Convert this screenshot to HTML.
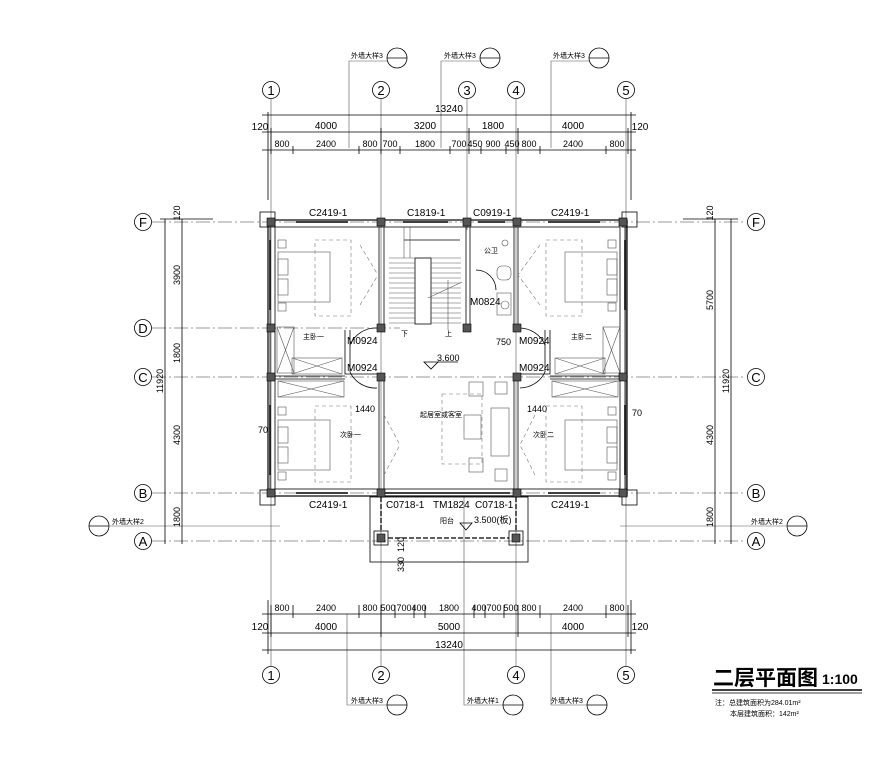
<!DOCTYPE html>
<html><head><meta charset="utf-8"><style>
html,body{margin:0;padding:0;background:#fff}
svg{display:block}
text{font-family:"Liberation Sans","Noto Sans CJK SC",sans-serif;fill:#000}
.t{font-size:10px}
.t9{font-size:9px}
.s{font-size:7px}
.ax{stroke:#777;stroke-width:.7;stroke-dasharray:14 3 2 3;fill:none}
.l{stroke:#000;stroke-width:.8;fill:none}
.g{stroke:#555;stroke-width:.6;fill:none}
.d{stroke:#777;stroke-width:.6;fill:none;stroke-dasharray:4 3}
.c{fill:#555;stroke:#000;stroke-width:.6}
</style></head><body>
<svg width="896" height="764" viewBox="0 0 896 764" xmlns="http://www.w3.org/2000/svg">
<g class="ax">
<line x1="152" y1="222" x2="746" y2="222"/>
<line x1="152" y1="328" x2="400" y2="328"/>
<line x1="152" y1="377" x2="746" y2="377"/>
<line x1="152" y1="493" x2="746" y2="493"/>
<line x1="152" y1="541" x2="746" y2="541"/>
</g>
<g class="g">
<line x1="271" y1="99" x2="271" y2="666"/>
<line x1="381" y1="99" x2="381" y2="666"/>
<line x1="467" y1="99" x2="467" y2="230"/>
<line x1="516" y1="99" x2="516" y2="666"/>
<line x1="626" y1="99" x2="626" y2="666"/>
<polyline points="349,148 349,61 387,61"/>
<polyline points="441,148 441,61 480,61"/>
<polyline points="551,148 551,61 589,61"/>
<polyline points="347,614 347,705 387,705"/>
<polyline points="464,497 464,705 503,705"/>
<polyline points="551,614 551,705 587,705"/>
<line x1="110" y1="526" x2="280" y2="526"/>
<line x1="620" y1="526" x2="786" y2="526"/>
</g>
<g class="l">
<circle cx="397" cy="58" r="10"/><line x1="387" y1="58" x2="407" y2="58"/>
<circle cx="490" cy="58" r="10"/><line x1="480" y1="58" x2="500" y2="58"/>
<circle cx="599" cy="58" r="10"/><line x1="589" y1="58" x2="609" y2="58"/>
<circle cx="397" cy="705" r="10"/><line x1="387" y1="705" x2="407" y2="705"/>
<circle cx="513" cy="705" r="10"/><line x1="503" y1="705" x2="523" y2="705"/>
<circle cx="597" cy="705" r="10"/><line x1="587" y1="705" x2="607" y2="705"/>
<circle cx="99" cy="526" r="10"/><line x1="89" y1="526" x2="109" y2="526"/>
<circle cx="797" cy="526" r="10"/><line x1="787" y1="526" x2="807" y2="526"/>
</g>
<g class="s">
<text x="351" y="58">外墙大样3</text><text x="444" y="58">外墙大样3</text><text x="553" y="58">外墙大样3</text>
<text x="351" y="703">外墙大样3</text><text x="467" y="703">外墙大样1</text><text x="551" y="703">外墙大样3</text>
<text x="112" y="524">外墙大样2</text><text x="751" y="524">外墙大样2</text>
</g>
<g class="l">
<circle cx="271" cy="90" r="8.5"/><circle cx="381" cy="90" r="8.5"/><circle cx="467" cy="90" r="8.5"/><circle cx="516" cy="90" r="8.5"/><circle cx="626" cy="90" r="8.5"/>
<circle cx="271" cy="675" r="8.5"/><circle cx="381" cy="675" r="8.5"/><circle cx="516" cy="675" r="8.5"/><circle cx="626" cy="675" r="8.5"/>
<circle cx="143" cy="222" r="8.5"/><circle cx="143" cy="328" r="8.5"/><circle cx="143" cy="377" r="8.5"/><circle cx="143" cy="493" r="8.5"/><circle cx="143" cy="541" r="8.5"/>
<circle cx="756" cy="222" r="8.5"/><circle cx="756" cy="377" r="8.5"/><circle cx="756" cy="493" r="8.5"/><circle cx="756" cy="541" r="8.5"/>
</g>
<g style="font-size:13px;font-family:'Liberation Serif',serif" text-anchor="middle">
<text x="271" y="95">1</text><text x="381" y="95">2</text><text x="467" y="95">3</text><text x="516" y="95">4</text><text x="626" y="95">5</text>
<text x="271" y="680">1</text><text x="381" y="680">2</text><text x="516" y="680">4</text><text x="626" y="680">5</text>
<text x="143" y="227">F</text><text x="143" y="333">D</text><text x="143" y="382">C</text><text x="143" y="498">B</text><text x="143" y="546">A</text>
<text x="756" y="227">F</text><text x="756" y="382">C</text><text x="756" y="498">B</text><text x="756" y="546">A</text>
</g>
<g class="l">
<line x1="262" y1="115" x2="636" y2="115"/>
<line x1="262" y1="132" x2="636" y2="132"/>
<line x1="262" y1="150" x2="636" y2="150"/>
<line x1="268" y1="112" x2="268" y2="200"/><line x1="631" y1="112" x2="631" y2="200"/>
<line x1="271" y1="128" x2="271" y2="154"/><line x1="381" y1="128" x2="381" y2="154"/><line x1="469" y1="128" x2="469" y2="154"/><line x1="518" y1="128" x2="518" y2="154"/><line x1="628" y1="128" x2="628" y2="154"/>
<line x1="293" y1="146" x2="293" y2="154"/><line x1="359" y1="146" x2="359" y2="154"/><line x1="400" y1="146" x2="400" y2="154"/><line x1="450" y1="146" x2="450" y2="154"/><line x1="481" y1="146" x2="481" y2="154"/><line x1="506" y1="146" x2="506" y2="154"/><line x1="540" y1="146" x2="540" y2="154"/><line x1="606" y1="146" x2="606" y2="154"/>
</g>
<g class="t" text-anchor="middle">
<text x="449" y="112">13240</text>
<text x="260" y="130">120</text><text x="326" y="129">4000</text><text x="425" y="129">3200</text><text x="493" y="129">1800</text><text x="573" y="129">4000</text><text x="640" y="130">120</text>
</g>
<g class="t9" text-anchor="middle">
<text x="282" y="147">800</text><text x="326" y="147">2400</text><text x="370" y="147">800</text><text x="390" y="147">700</text><text x="425" y="147">1800</text><text x="459" y="147">700</text><text x="475" y="147">450</text><text x="493" y="147">900</text><text x="512" y="147">450</text><text x="529" y="147">800</text><text x="573" y="147">2400</text><text x="617" y="147">800</text>
</g>
<g class="l">
<line x1="262" y1="614" x2="636" y2="614"/>
<line x1="262" y1="633" x2="636" y2="633"/>
<line x1="262" y1="650" x2="636" y2="650"/>
<line x1="268" y1="600" x2="268" y2="654"/><line x1="631" y1="600" x2="631" y2="654"/>
<line x1="271" y1="605" x2="271" y2="637"/><line x1="381" y1="605" x2="381" y2="637"/><line x1="518" y1="605" x2="518" y2="637"/><line x1="628" y1="605" x2="628" y2="637"/>
<line x1="293" y1="605" x2="293" y2="618"/><line x1="359" y1="605" x2="359" y2="618"/><line x1="395" y1="605" x2="395" y2="618"/><line x1="414" y1="605" x2="414" y2="618"/><line x1="425" y1="605" x2="425" y2="618"/><line x1="474" y1="605" x2="474" y2="618"/><line x1="485" y1="605" x2="485" y2="618"/><line x1="504" y1="605" x2="504" y2="618"/><line x1="540" y1="605" x2="540" y2="618"/><line x1="606" y1="605" x2="606" y2="618"/>
</g>
<g class="t9" text-anchor="middle">
<text x="282" y="611">800</text><text x="326" y="611">2400</text><text x="370" y="611">800</text><text x="388" y="611">500</text><text x="404" y="611">700</text><text x="419" y="611">400</text><text x="449" y="611">1800</text><text x="479" y="611">400</text><text x="494" y="611">700</text><text x="511" y="611">500</text><text x="529" y="611">800</text><text x="573" y="611">2400</text><text x="617" y="611">800</text>
</g>
<g class="t" text-anchor="middle">
<text x="260" y="630">120</text><text x="326" y="630">4000</text><text x="449" y="630">5000</text><text x="573" y="630">4000</text><text x="640" y="630">120</text>
<text x="449" y="648">13240</text>
</g>
<g class="l">
<line x1="165" y1="219" x2="165" y2="544"/><line x1="182" y1="219" x2="182" y2="544"/>
<line x1="160" y1="219" x2="213" y2="219"/>
<line x1="715" y1="219" x2="715" y2="544"/><line x1="731" y1="219" x2="731" y2="544"/>
<line x1="683" y1="219" x2="738" y2="219"/>
</g>
<g class="t9" text-anchor="middle">
<text transform="translate(180,213) rotate(-90)">120</text>
<text transform="translate(180,275) rotate(-90)">3900</text>
<text transform="translate(180,353) rotate(-90)">1800</text>
<text transform="translate(180,435) rotate(-90)">4300</text>
<text transform="translate(180,517) rotate(-90)">1800</text>
<text transform="translate(163,381) rotate(-90)">11920</text>
<text transform="translate(713,213) rotate(-90)">120</text>
<text transform="translate(713,300) rotate(-90)">5700</text>
<text transform="translate(713,435) rotate(-90)">4300</text>
<text transform="translate(713,517) rotate(-90)">1800</text>
<text transform="translate(729,381) rotate(-90)">11920</text>
</g>
<g class="l">
<rect x="260" y="212" width="15" height="15"/><rect x="622" y="212" width="15" height="15"/>
<rect x="260" y="490" width="15" height="15"/><rect x="622" y="490" width="15" height="15"/>
<rect x="268" y="220" width="359" height="276" stroke-width="1.2"/>
<rect x="275" y="227" width="345" height="262"/>
<line x1="270" y1="227" x2="270" y2="489"/><line x1="625" y1="227" x2="625" y2="489"/>
<line x1="379" y1="227" x2="379" y2="330"/><line x1="384" y1="227" x2="384" y2="330"/>
<line x1="379" y1="375" x2="379" y2="489"/><line x1="384" y1="375" x2="384" y2="489"/>
<line x1="466" y1="227" x2="466" y2="330"/><line x1="470" y1="227" x2="470" y2="330"/>
<line x1="514" y1="227" x2="514" y2="330"/><line x1="518" y1="227" x2="518" y2="330"/>
<line x1="514" y1="375" x2="514" y2="489"/><line x1="518" y1="375" x2="518" y2="489"/>
<line x1="275" y1="376" x2="345" y2="376"/><line x1="275" y1="379" x2="345" y2="379"/>
<line x1="550" y1="376" x2="620" y2="376"/><line x1="550" y1="379" x2="620" y2="379"/>
<polyline points="345,330 345,374 379,374"/><polyline points="350,330 350,372"/>
<polyline points="550,330 550,374 518,374"/><polyline points="545,330 545,372"/>
<path d="M377 328 A28 28 0 0 0 350 345"/><path d="M377 388 A28 28 0 0 1 350 372"/>
<path d="M520 328 A28 28 0 0 1 545 345"/><path d="M520 388 A28 28 0 0 0 545 372"/>
<path d="M476 270 A20 20 0 0 1 496 290"/>
<rect x="415" y="258" width="16" height="66"/>
<line x1="404" y1="240" x2="460" y2="240"/>
</g>
<g class="g">
<path d="M389 258 h26 M389 263 h26 M389 268 h26 M389 273 h26 M389 278 h26 M389 283 h26 M389 288 h26 M389 293 h26 M389 298 h26 M389 303 h26 M389 308 h26 M389 313 h26 M389 318 h26 M389 323 h26"/>
<path d="M431 258 h30 M431 263 h30 M431 268 h30 M431 273 h30 M431 278 h30 M431 283 h30 M431 288 h30 M431 293 h30 M431 298 h30 M431 303 h30 M431 308 h30 M431 313 h30 M431 318 h30 M431 323 h30"/>
<line x1="428" y1="298" x2="462" y2="282"/><line x1="448" y1="280" x2="448" y2="330"/>
<line x1="404" y1="227" x2="404" y2="258"/><line x1="410" y1="227" x2="410" y2="258"/>
<rect x="278" y="252" width="52" height="50"/><rect x="278" y="259" width="10" height="16"/><rect x="278" y="279" width="10" height="16"/>
<rect x="565" y="252" width="52" height="50"/><rect x="607" y="259" width="10" height="16"/><rect x="607" y="279" width="10" height="16"/>
<rect x="278" y="420" width="52" height="50"/><rect x="278" y="427" width="10" height="16"/><rect x="278" y="447" width="10" height="16"/>
<rect x="565" y="420" width="52" height="50"/><rect x="607" y="427" width="10" height="16"/><rect x="607" y="447" width="10" height="16"/>
<rect x="278" y="240" width="8" height="8"/><rect x="278" y="303" width="8" height="8"/><rect x="608" y="240" width="8" height="8"/><rect x="608" y="303" width="8" height="8"/>
<rect x="278" y="407" width="8" height="8"/><rect x="278" y="472" width="8" height="8"/><rect x="608" y="407" width="8" height="8"/><rect x="608" y="472" width="8" height="8"/>
<rect x="277" y="327" width="17" height="46"/><path d="M277 327 L294 373 M294 327 L277 373"/>
<rect x="292" y="358" width="50" height="16"/><path d="M292 358 L342 374 M342 358 L292 374"/>
<rect x="278" y="381" width="66" height="16"/><path d="M278 381 L344 397 M344 381 L278 397"/>
<rect x="603" y="327" width="17" height="46"/><path d="M603 327 L620 373 M620 327 L603 373"/>
<rect x="555" y="358" width="50" height="16"/><path d="M555 358 L605 374 M605 358 L555 374"/>
<rect x="552" y="381" width="66" height="16"/><path d="M552 381 L618 397 M618 381 L552 397"/>
<rect x="469" y="382" width="14" height="14"/><rect x="464" y="415" width="17" height="24"/><rect x="469" y="458" width="14" height="14"/>
<rect x="491" y="408" width="18" height="48"/><rect x="495" y="382" width="12" height="12"/><rect x="495" y="469" width="12" height="12"/>
<rect x="442" y="394" width="40" height="70" class="d"/>
<rect x="497" y="266" width="14" height="14" rx="5"/><rect x="497" y="293" width="14" height="22"/><circle cx="505" cy="305" r="4"/>
<circle cx="505" cy="243" r="3"/>
</g>
<g class="d">
<rect x="315" y="240" width="36" height="76"/><rect x="546" y="240" width="36" height="76"/>
<rect x="315" y="406" width="36" height="76"/><rect x="546" y="406" width="36" height="76"/>
<path d="M360 245 L378 275 M360 305 L378 275 M384 415 L400 445 M384 475 L400 445 M540 245 L518 275 M540 305 L518 275 M535 415 L520 445 M535 475 L520 445"/>
</g>
<g class="c">
<rect x="267" y="218" width="8" height="8"/><rect x="377" y="218" width="8" height="8"/><rect x="463" y="218" width="8" height="8"/><rect x="513" y="218" width="8" height="8"/><rect x="619" y="218" width="8" height="8"/>
<rect x="267" y="324" width="8" height="8"/><rect x="377" y="324" width="8" height="8"/><rect x="463" y="324" width="8" height="8"/><rect x="513" y="324" width="8" height="8"/>
<rect x="267" y="373" width="8" height="8"/><rect x="377" y="373" width="8" height="8"/><rect x="513" y="373" width="8" height="8"/><rect x="619" y="373" width="8" height="8"/>
<rect x="267" y="489" width="8" height="8"/><rect x="377" y="489" width="8" height="8"/><rect x="513" y="489" width="8" height="8"/><rect x="619" y="489" width="8" height="8"/>
</g>
<g style="stroke:#000;stroke-width:1.6">
<line x1="296" y1="222" x2="348" y2="222"/><line x1="548" y1="222" x2="600" y2="222"/>
<line x1="403" y1="222" x2="448" y2="222"/><line x1="478" y1="222" x2="505" y2="222"/>
<line x1="296" y1="493" x2="348" y2="493"/><line x1="548" y1="493" x2="600" y2="493"/>
<line x1="270" y1="240" x2="270" y2="310"/><line x1="270" y1="405" x2="270" y2="475"/>
<line x1="625" y1="240" x2="625" y2="310"/><line x1="625" y1="405" x2="625" y2="475"/>
<line x1="385" y1="493" x2="510" y2="493"/>
</g>
<g class="l">
<rect x="370" y="497" width="158" height="65"/>
<rect x="374" y="531" width="14" height="14"/><rect x="509" y="531" width="14" height="14"/>
</g>
<g style="stroke:#000;stroke-width:1.3;stroke-dasharray:5 2">
<line x1="388" y1="538" x2="509" y2="538"/><line x1="381" y1="497" x2="381" y2="531"/><line x1="516" y1="497" x2="516" y2="531"/>
</g>
<g class="c"><rect x="377" y="534" width="8" height="8"/><rect x="512" y="534" width="8" height="8"/></g>
<g class="t">
<text x="309" y="216">C2419-1</text><text x="407" y="216">C1819-1</text><text x="473" y="216">C0919-1</text><text x="551" y="216">C2419-1</text>
<text x="309" y="508">C2419-1</text><text x="551" y="508">C2419-1</text>
<text x="386" y="508">C0718-1</text><text x="433" y="508">TM1824</text><text x="475" y="508">C0718-1</text>
<text x="470" y="305">M0824</text>
<text x="347" y="344">M0924</text><text x="347" y="371">M0924</text><text x="519" y="344">M0924</text><text x="519" y="371">M0924</text>
<text x="437" y="361" style="font-size:9px">3.600</text>
<text x="355" y="412" style="font-size:9px">1440</text><text x="527" y="412" style="font-size:9px">1440</text>
<text x="496" y="345" style="font-size:9px">750</text>
<text x="258" y="433" style="font-size:9px">70</text><text x="632" y="416" style="font-size:9px">70</text>
<text x="474" y="523" style="font-size:9px">3.500(板)</text>
<text transform="translate(404,552) rotate(-90)" style="font-size:9px">120</text>
<text transform="translate(404,572) rotate(-90)" style="font-size:9px">330</text>
</g>
<g class="s">
<text x="303" y="339">主卧一</text><text x="571" y="339">主卧二</text>
<text x="340" y="437">次卧一</text><text x="533" y="437">次卧二</text>
<text x="420" y="417">起居室或客室</text><text x="484" y="253">公卫</text>
<text x="401" y="336">下</text><text x="445" y="336">上</text><text x="440" y="523">阳台</text>
</g>
<path d="M424 362 L438 362 L431 369 Z" class="l"/><line x1="438" y1="362" x2="458" y2="362" class="l"/>
<path d="M460 523 L472 523 L466 530 Z" class="l"/>
<text x="713" y="685" style="font-size:21px;font-weight:bold;font-family:'Noto Sans CJK SC',sans-serif">二层平面图</text>
<text x="822" y="684" style="font-size:14px;font-weight:bold">1:100</text>
<line x1="712" y1="690" x2="862" y2="690" stroke="#000" stroke-width="1.5"/>
<line x1="712" y1="693" x2="862" y2="693" stroke="#000" stroke-width=".8"/>
<text x="715" y="705" class="s">注：总建筑面积为284.01m²</text>
<text x="730" y="716" class="s">本层建筑面积：142m²</text>
</svg>
</body></html>
